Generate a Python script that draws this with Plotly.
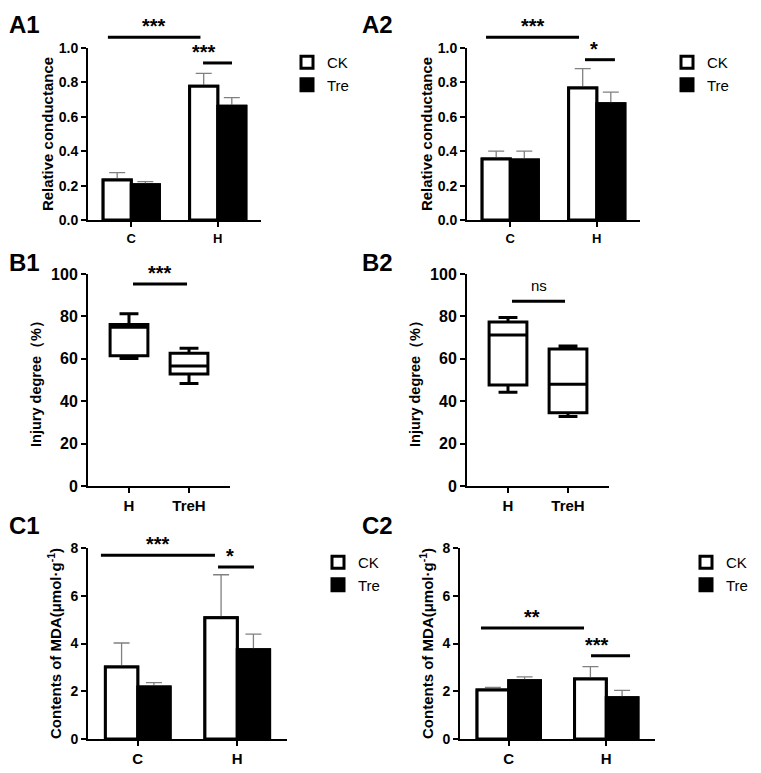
import plotly.graph_objects as go

W, H = 761, 773
FONT = "Liberation Sans, Arial, sans-serif"

# ---------------- data ----------------
cats = ["C", "H"]
A1_ck = [0.233, 0.777]
A1_ck_err = [0.042, 0.076]
A1_tre = [0.205, 0.661]
A1_tre_err = [0.018, 0.050]

A2_ck = [0.355, 0.767]
A2_ck_err = [0.045, 0.113]
A2_tre = [0.349, 0.676]
A2_tre_err = [0.051, 0.068]

box_cats = ["H", "TreH"]
B1_min = [60.1, 48.4]
B1_q1 = [61.4, 52.8]
B1_med = [74.9, 56.6]
B1_q3 = [76.2, 62.6]
B1_max = [81.2, 65.0]

B2_min = [44.2, 32.8]
B2_q1 = [47.6, 34.5]
B2_med = [71.2, 48.0]
B2_q3 = [77.3, 64.6]
B2_max = [79.5, 66.0]

C1_ck = [3.02, 5.08]
C1_ck_err = [1.0, 1.8]
C1_tre = [2.18, 3.74]
C1_tre_err = [0.18, 0.65]

C2_ck = [2.05, 2.51]
C2_ck_err = [0.11, 0.52]
C2_tre = [2.44, 1.73]
C2_tre_err = [0.16, 0.31]

# significance brackets: (x0, x1, y, label)
A1_sig = [(-0.27, 0.80, 1.062, "***"), (0.83, 1.165, 0.913, "***")]
A2_sig = [(-0.28, 0.795, 1.062, "***"), (0.864, 1.21, 0.932, "*")]
B1_sig = [(0.067, 0.967, 95.3, "***")]
B2_sig = [(0.067, 0.95, 87.1, "ns")]
C1_sig = [(-0.37, 0.776, 7.70, "***"), (0.807, 1.168, 7.2, "*")]
C2_sig = [(-0.285, 0.772, 4.65, "**"), (0.844, 1.244, 3.49, "***")]

# ---------------- layout helpers ----------------
def dom_x(p0, p1):
    return [p0 / W, p1 / W]

def dom_y(top, bottom):
    return [1 - bottom / H, 1 - top / H]

panels = {
    "A1": ("", (88, 261), (48, 220), [-0.5, 1.5], [0, 1]),
    "A2": ("2", (467, 640), (48, 220), [-0.5, 1.5], [0, 1]),
    "B1": ("3", (88, 230), (274, 486), [-0.683, 1.683], [0, 100]),
    "B2": ("4", (467, 609), (274, 486), [-0.683, 1.683], [0, 100]),
    "C1": ("5", (88, 287), (548, 739), [-0.5, 1.5], [0, 8]),
    "C2": ("6", (460, 655), (548, 739), [-0.5, 1.5], [0, 8]),
}

fig = go.Figure()

def err(arr):
    return dict(type="data", array=arr, arrayminus=[0] * len(arr), symmetric=False,
                color="#808080", thickness=1.3, width=8)

def add_bars(suffix, ck, ck_err, tre, tre_err, legend):
    xa = "x" + suffix
    ya = "y" + suffix
    ck_marker = dict(color="white", line=dict(color="black", width=3))
    tre_marker = dict(color="black", line=dict(color="black", width=3))
    fig.add_trace(go.Bar(x=cats, y=ck, name="CK", xaxis=xa, yaxis=ya, marker=ck_marker,
                         error_y=err(ck_err), legend=legend, offsetgroup="ck"))
    fig.add_trace(go.Bar(x=cats, y=tre, name="Tre", xaxis=xa, yaxis=ya, marker=tre_marker,
                         error_y=err(tre_err), legend=legend, offsetgroup="tre"))
    # same bars again on top (no error bars) so the bar outline hides the lower error cap
    fig.add_trace(go.Bar(x=cats, y=ck, name="CK", xaxis=xa, yaxis=ya, marker=ck_marker,
                         showlegend=False, legend=legend, offsetgroup="ck", hoverinfo="skip"))
    fig.add_trace(go.Bar(x=cats, y=tre, name="Tre", xaxis=xa, yaxis=ya, marker=tre_marker,
                         showlegend=False, legend=legend, offsetgroup="tre", hoverinfo="skip"))

def add_box(suffix, mn, q1, med, q3, mx):
    fig.add_trace(go.Box(x=box_cats, lowerfence=mn, q1=q1, median=med, q3=q3,
                         upperfence=mx, xaxis="x" + suffix, yaxis="y" + suffix,
                         fillcolor="white", line=dict(color="black", width=3),
                         width=0.63, whiskerwidth=0.5, boxpoints=False,
                         showlegend=False))

add_bars("", A1_ck, A1_ck_err, A1_tre, A1_tre_err, "legend")
add_bars("2", A2_ck, A2_ck_err, A2_tre, A2_tre_err, "legend2")
add_box("3", B1_min, B1_q1, B1_med, B1_q3, B1_max)
add_box("4", B2_min, B2_q1, B2_med, B2_q3, B2_max)
add_bars("5", C1_ck, C1_ck_err, C1_tre, C1_tre_err, "legend3")
add_bars("6", C2_ck, C2_ck_err, C2_tre, C2_tre_err, "legend4")

# (title, title size, y tick size, x tick size, standoff)
ytitles = {
    "A1": ("Relative conductance", 15, 14, 13, 1),
    "A2": ("Relative conductance", 15, 14, 13, 1),
    "B1": ("Injury degree（%）", 14.5, 16, 15, 6),
    "B2": ("Injury degree（%）", 14.5, 16, 15, 6),
    "C1": ("Contents of MDA(μmol·g<sup>-1</sup>)", 15, 14, 15, 5),
    "C2": ("Contents of MDA(μmol·g<sup>-1</sup>)", 15, 14, 15, 5),
}
ydticks = {"A": 0.2, "B": 20, "C": 2}

layout = dict(
    width=W, height=H, margin=dict(l=0, r=0, t=0, b=0),
    paper_bgcolor="white", plot_bgcolor="white",
    barmode="group", bargap=0.35, bargroupgap=0,
    font=dict(family=FONT, color="black"),
    shapes=[], annotations=[],
)

for key, (suf, xd, yd, xr, yr) in panels.items():
    title, tsz, tick_sz, xtick_sz, stand = ytitles[key]
    ax_common = dict(showline=True, linewidth=2, linecolor="black", ticks="outside",
                     ticklen=5, tickwidth=2, tickcolor="black", showgrid=False,
                     zeroline=False, automargin=False)
    layout["xaxis" + suf] = dict(domain=dom_x(*xd), range=xr, type="category",
                                 anchor="y" + suf,
                                 tickfont=dict(size=xtick_sz, weight="bold"), **ax_common)
    layout["yaxis" + suf] = dict(domain=dom_y(*yd), range=yr, anchor="x" + suf,
                                 dtick=ydticks[key[0]],
                                 tickformat=".1f" if key[0] == "A" else "d",
                                 tickfont=dict(size=tick_sz, weight="bold"),
                                 title=dict(text=title, font=dict(size=tsz, weight="bold"),
                                            standoff=stand),
                                 **ax_common)

# significance brackets
sigs = {"A1": A1_sig, "A2": A2_sig, "B1": B1_sig, "B2": B2_sig, "C1": C1_sig, "C2": C2_sig}
for key, lst in sigs.items():
    suf, xd, yd, xr, yr = panels[key]
    for x0, x1, y, lab in lst:
        fx0 = (x0 - xr[0]) / (xr[1] - xr[0])
        fx1 = (x1 - xr[0]) / (xr[1] - xr[0])
        fy = (y - yr[0]) / (yr[1] - yr[0])
        layout["shapes"].append(dict(type="line", xref="x%s domain" % suf, yref="y%s domain" % suf,
                                     x0=fx0, x1=fx1, y0=fy, y1=fy,
                                     line=dict(color="black", width=3)))
        if lab == "ns":
            layout["annotations"].append(dict(text=lab, xref="x%s domain" % suf, yref="y%s domain" % suf,
                                              x=(fx0 + fx1) / 2, y=fy, yanchor="bottom", showarrow=False,
                                              yshift=5, font=dict(size=15)))
        else:
            layout["annotations"].append(dict(text=lab, xref="x%s domain" % suf, yref="y%s domain" % suf,
                                              x=(fx0 + fx1) / 2, y=fy, yanchor="bottom", showarrow=False,
                                              yshift=-2, font=dict(size=20, weight="bold")))

# panel labels
for lab, px, py in [("A1", 7, 25), ("A2", 360, 25), ("B1", 7, 262), ("B2", 360, 262),
                    ("C1", 7, 525), ("C2", 360, 525)]:
    layout["annotations"].append(dict(text=lab, xref="paper", yref="paper", x=px / W, y=1 - py / H,
                                      xanchor="left", yanchor="middle", showarrow=False,
                                      font=dict(size=24, weight="bold")))

# legends
for name, px, py in [("legend", 287, 46), ("legend2", 667, 46), ("legend3", 318, 546), ("legend4", 686, 546)]:
    layout[name] = dict(x=px / W, y=1 - py / H, xanchor="left", yanchor="top",
                        bgcolor="rgba(0,0,0,0)", font=dict(size=15), borderwidth=0,
                        itemclick=False, itemdoubleclick=False)

fig.update_layout(**layout)
fig.write_html("out.html", config={"displayModeBar": False},
               post_script="document.body.style.margin='0';")
